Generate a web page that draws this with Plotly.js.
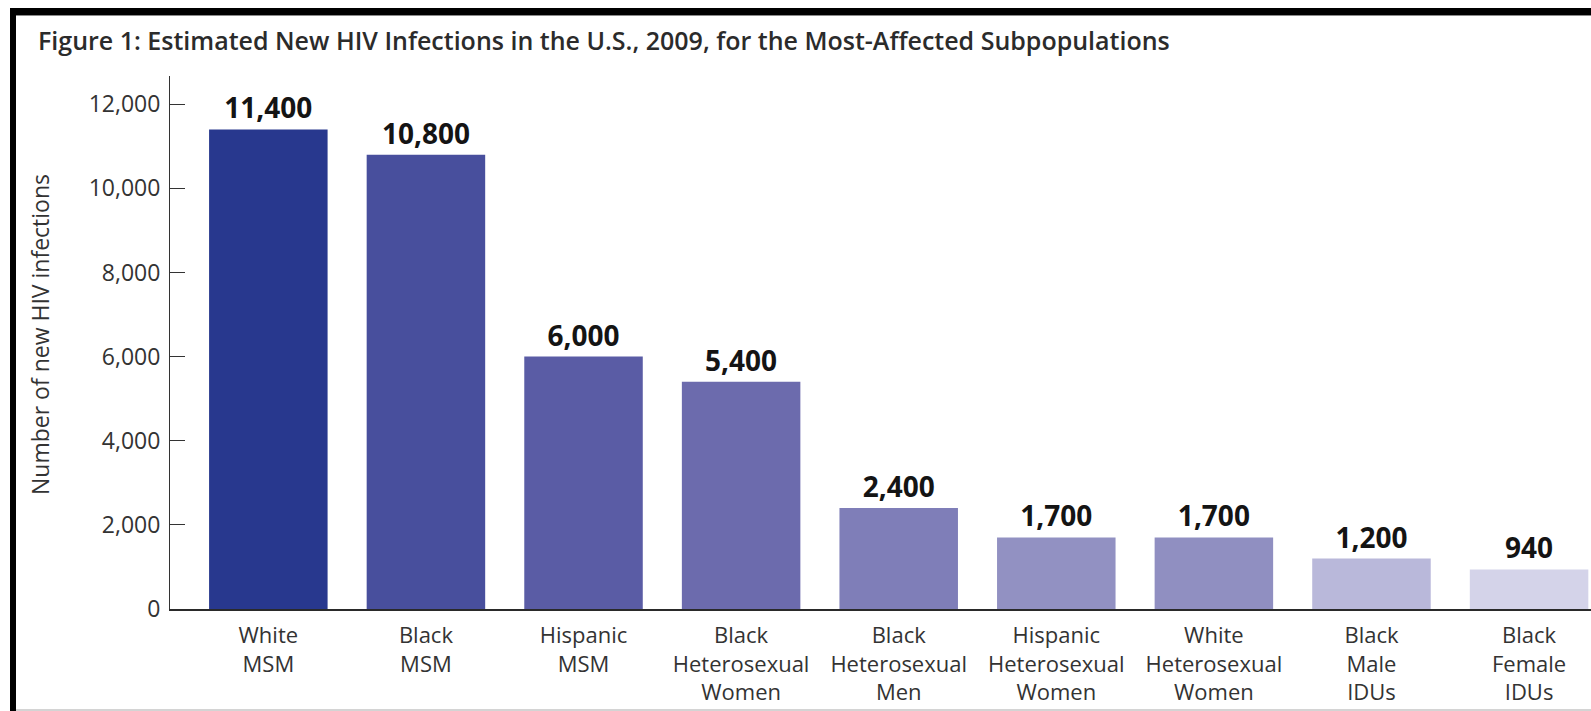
<!DOCTYPE html>
<html>
<head>
<meta charset="utf-8">
<script src="https://cdn.plot.ly/plotly-3.0.1.min.js"></script>
<style>
  html, body { margin: 0; padding: 0; background: #ffffff; }
  #wrap { position: relative; width: 1591px; height: 711px; overflow: hidden; }
  #chart { position: absolute; left: 0; top: 0; width: 1591px; height: 711px; }
  .frame { position: absolute; pointer-events: none; }
</style>
</head>
<body>
<div id="wrap">
  <div id="chart"></div>
  <!-- page frame around the figure -->
  <div class="frame" style="left:10px; top:8px; width:1581px; height:7px; background:#000;"></div>
  <div class="frame" style="left:16px; top:15px; width:1575px; height:1px; background:#8a8a8a;"></div>
  <div class="frame" style="left:10px; top:8px; width:6px; height:703px; background:#000;"></div>
  <div class="frame" style="left:16px; top:709px; width:1575px; height:2px; background:#d4d4d4;"></div>
</div>
<script>
// Estimated new HIV infections, 2009, by subpopulation
const categories = [
  "White<br>MSM",
  "Black<br>MSM",
  "Hispanic<br>MSM",
  "Black<br>Heterosexual<br>Women",
  "Black<br>Heterosexual<br>Men",
  "Hispanic<br>Heterosexual<br>Women",
  "White<br>Heterosexual<br>Women",
  "Black<br>Male<br>IDUs",
  "Black<br>Female<br>IDUs"
];
const infections = [11400, 10800, 6000, 5400, 2400, 1700, 1700, 1200, 940];
const barColors = [
  "#28388e", "#484f9d", "#5a5ca5", "#6c6bad", "#7f7eb8",
  "#9291c2", "#908fc1", "#b9b8da", "#d4d3e9"
];
const yTicks = [0, 2000, 4000, 6000, 8000, 10000, 12000];

const trace = {
  type: "bar",
  x: categories,
  y: infections,
  marker: { color: barColors, line: { width: 0 } },
  texttemplate: "%{y:,}",
  textposition: "outside",
  constraintext: "none",
  cliponaxis: false,
  textfont: { family: "Open Sans", size: 28, weight: 700, color: "#141414" },
  hoverinfo: "x+y"
};

const layout = {
  width: 1591,
  height: 711,
  paper_bgcolor: "#ffffff",
  plot_bgcolor: "#ffffff",
  margin: { l: 170, r: 0, t: 76, b: 102, pad: 0 },
  showlegend: false,
  bargap: 0.248,
  title: {
    text: "Figure 1: Estimated New HIV Infections in the U.S., 2009, for the Most-Affected Subpopulations",
    font: { family: "Open Sans", size: 25, weight: 600, color: "#2b2b2b" },
    xref: "container",
    yref: "container",
    x: 38 / 1591,
    xanchor: "left",
    y: 1 - 41 / 711,
    yanchor: "middle"
  },
  xaxis: {
    type: "category",
    range: [-0.624, 8.393],
    showline: true,
    linecolor: "#2a2a2a",
    linewidth: 1.5,
    ticks: "",
    ticklabelstandoff: 6,
    showgrid: false,
    zeroline: false,
    tickfont: { family: "Open Sans", size: 22, color: "#333333" },
    fixedrange: true
  },
  yaxis: {
    range: [0, 12670],
    tickvals: yTicks,
    tickformat: ",",
    ticks: "inside",
    ticklen: 15,
    tickwidth: 1,
    tickcolor: "#333333",
    showline: true,
    linecolor: "#333333",
    linewidth: 1,
    showgrid: false,
    zeroline: false,
    ticklabelstandoff: 4,
    tickfont: { family: "Open Sans", size: 23, color: "#333333" },
    fixedrange: true
  },
  annotations: [
    {
      text: "Number of new HIV infections",
      textangle: -90,
      xref: "paper",
      yref: "paper",
      x: (40 - 170) / 1421,
      y: (609 - 335) / 533,
      xanchor: "center",
      yanchor: "middle",
      showarrow: false,
      font: { family: "Open Sans", size: 23, color: "#333333" }
    }
  ]
};

Plotly.newPlot("chart", [trace], layout, { displayModeBar: false, staticPlot: true });
</script>
</body>
</html>
